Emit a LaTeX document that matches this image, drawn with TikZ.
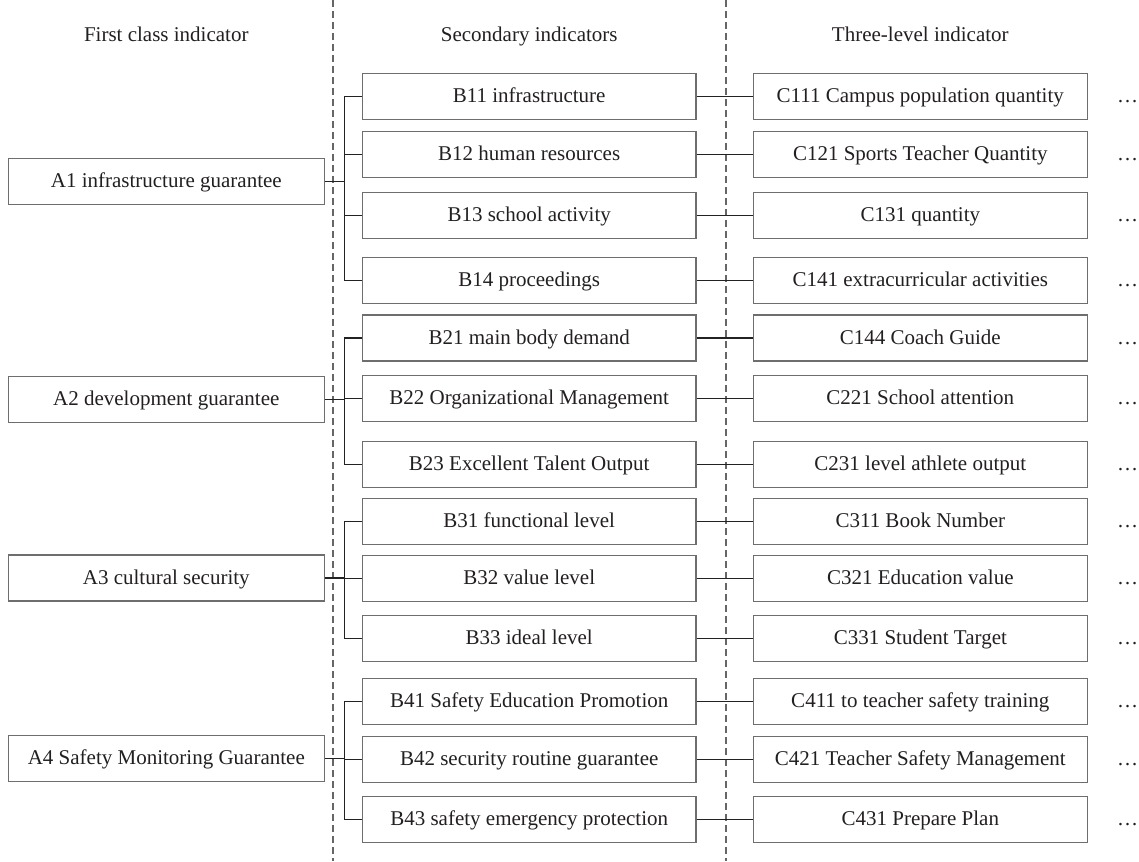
\documentclass[tikz,border=0pt]{standalone}
\usepackage{fontspec}
\setmainfont{Liberation Serif}
\definecolor{boxgray}{HTML}{6E6E6E}
\definecolor{linecol}{HTML}{222222}
\definecolor{dashcol}{HTML}{666666}
\definecolor{txt}{HTML}{231F20}
\begin{document}
\begin{tikzpicture}[x=1pt,y=-1pt,
  box/.style={draw=boxgray, line width=1.3pt, inner sep=0pt, minimum height=46pt,
    text height=15pt, text depth=3pt, font=\fontsize{21}{25}\selectfont, text=txt},
  abox/.style={box, minimum width=316pt},
  bbox/.style={box, minimum width=333.7pt},
  cbox/.style={box, minimum width=334pt},
  conn/.style={draw=linecol, line width=1.3pt},
  sepline/.style={draw=dashcol, line width=1.6pt, dash pattern=on 7pt off 4pt},
  head/.style={anchor=base, inner sep=0pt, font=\fontsize{21}{25}\selectfont, text=txt},
  more/.style={anchor=base, inner sep=0pt, font=\fontsize{21}{25}\selectfont, text=txt}
]
\useasboundingbox (0,0) rectangle (1139,861);

% separators
\coordinate (s1t) at (333,0);
\coordinate (s1b) at (333,861);
\coordinate (s2t) at (726,0);
\coordinate (s2b) at (726,861);
\draw[sepline] (s1t) -- (s1b);
\draw[sepline] (s2t) -- (s2b);

% headers
\node[head] (h1) at (166.3,41.5) {First class indicator};
\node[head] (h2) at (529.2,41.5) {Secondary indicators};
\node[head] (h3) at (920.3,41.5) {Three-level indicator};

% first level
\node[abox] (A1) at (166.3,181.5) {A1 infrastructure guarantee};
\node[abox] (A2) at (166.3,399.7) {A2 development guarantee};
\node[abox] (A3) at (166.3,578) {A3 cultural security};
\node[abox] (A4) at (166.3,758.7) {A4 Safety Monitoring Guarantee};

% second level
\node[bbox] (B11) at (529.2,96.7) {B11 infrastructure};
\node[bbox] (B12) at (529.2,154.8) {B12 human resources};
\node[bbox] (B13) at (529.2,215.3) {B13 school activity};
\node[bbox] (B14) at (529.2,280.8) {B14 proceedings};
\node[bbox] (B21) at (529.2,338) {B21 main body demand};
\node[bbox] (B22) at (529.2,398.8) {B22 Organizational Management};
\node[bbox] (B23) at (529.2,464.5) {B23 Excellent Talent Output};
\node[bbox] (B31) at (529.2,521.2) {B31 functional level};
\node[bbox] (B32) at (529.2,578.8) {B32 value level};
\node[bbox] (B33) at (529.2,638.8) {B33 ideal level};
\node[bbox] (B41) at (529.2,701.2) {B41 Safety Education Promotion};
\node[bbox] (B42) at (529.2,759.2) {B42 security routine guarantee};
\node[bbox] (B43) at (529.2,819.7) {B43 safety emergency protection};

% third level
\node[cbox] (C11) at (920.3,96.7) {C111 Campus population quantity};
\node[cbox] (C12) at (920.3,154.8) {C121 Sports Teacher Quantity};
\node[cbox] (C13) at (920.3,215.3) {C131 quantity};
\node[cbox] (C14) at (920.3,280.8) {C141 extracurricular activities};
\node[cbox] (C21) at (920.3,338) {C144 Coach Guide};
\node[cbox] (C22) at (920.3,398.8) {C221 School attention};
\node[cbox] (C23) at (920.3,464.5) {C231 level athlete output};
\node[cbox] (C31) at (920.3,521.2) {C311 Book Number};
\node[cbox] (C32) at (920.3,578.8) {C321 Education value};
\node[cbox] (C33) at (920.3,638.8) {C331 Student Target};
\node[cbox] (C41) at (920.3,701.2) {C411 to teacher safety training};
\node[cbox] (C42) at (920.3,759.2) {C421 Teacher Safety Management};
\node[cbox] (C43) at (920.3,819.7) {C431 Prepare Plan};

% ellipses
\foreach \n in {C11,C12,C13,C14,C21,C22,C23,C31,C32,C33,C41,C42,C43}{
  \node[more] (m\n) at ([xshift=39.7pt]\n.base east) {…};
}

% bracket spine
\coordinate (sp) at (344.3,0);

% A1 group
\draw[conn] (A1.east) -- (sp |- A1.east);
\draw[conn] (sp |- B11.west) -- (sp |- B14.west);
\foreach \b in {B11,B12,B13,B14}{\draw[conn] (sp |- \b.west) -- (\b.west);}
% A2 group
\draw[conn] (A2.east) -- (sp |- A2.east);
\draw[conn] (sp |- B21.west) -- (sp |- B23.west);
\foreach \b in {B21,B22,B23}{\draw[conn] (sp |- \b.west) -- (\b.west);}
% A3 group
\draw[conn] (A3.east) -- (sp |- A3.east);
\draw[conn] (sp |- B31.west) -- (sp |- B33.west);
\foreach \b in {B31,B32,B33}{\draw[conn] (sp |- \b.west) -- (\b.west);}
% A4 group
\draw[conn] (A4.east) -- (sp |- A4.east);
\draw[conn] (sp |- B41.west) -- (sp |- B43.west);
\foreach \b in {B41,B42,B43}{\draw[conn] (sp |- \b.west) -- (\b.west);}

% B to C
\foreach \i in {11,12,13,14,21,22,23,31,32,33,41,42,43}{
  \draw[conn] (B\i.east) -- (C\i.west);
}
\end{tikzpicture}
\end{document}
